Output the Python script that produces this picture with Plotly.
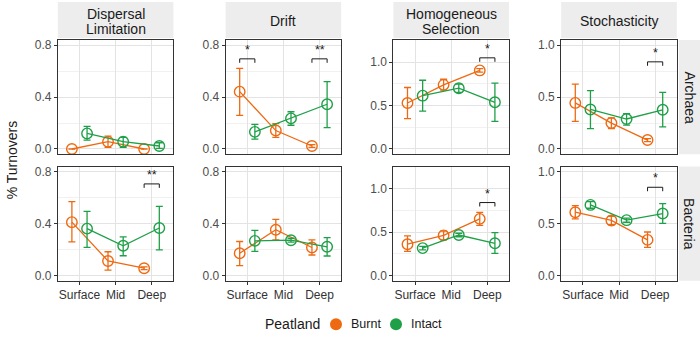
import plotly.graph_objects as go

# ---------------- data ----------------
categories = ["Surface", "Mid", "Deep"]
processes = ["Dispersal Limitation", "Drift", "Homogeneous Selection", "Stochasticity"]
process_label_lines = [["Dispersal", "Limitation"], ["Drift"], ["Homogeneous", "Selection"], ["Stochasticity"]]
domains = ["Archaea", "Bacteria"]
groups = ["Burnt", "Intact"]

# Archaea - Burnt
arc_dl_burnt_mean = [0.0, 0.056, 0.0]
arc_dl_burnt_lo = [0.0, 0.013, 0.0]
arc_dl_burnt_hi = [0.0, 0.099, 0.0]
arc_dr_burnt_mean = [0.442, 0.142, 0.023]
arc_dr_burnt_lo = [0.259, 0.089, 0.013]
arc_dr_burnt_hi = [0.622, 0.196, 0.033]
arc_hs_burnt_mean = [0.53, 0.739, 0.905]
arc_hs_burnt_lo = [0.349, 0.678, 0.885]
arc_hs_burnt_hi = [0.708, 0.803, 0.925]
arc_st_burnt_mean = [0.444, 0.25, 0.086]
arc_st_burnt_lo = [0.267, 0.197, 0.07]
arc_st_burnt_hi = [0.625, 0.30, 0.10]
# Archaea - Intact
arc_dl_intact_mean = [0.12, 0.056, 0.023]
arc_dl_intact_lo = [0.069, 0.013, 0.005]
arc_dl_intact_hi = [0.175, 0.089, 0.048]
arc_dr_intact_mean = [0.132, 0.236, 0.345]
arc_dr_intact_lo = [0.076, 0.183, 0.165]
arc_dr_intact_hi = [0.19, 0.287, 0.52]
arc_hs_intact_mean = [0.614, 0.70, 0.538]
arc_hs_intact_lo = [0.436, 0.652, 0.318]
arc_hs_intact_hi = [0.792, 0.746, 0.758]
arc_st_intact_mean = [0.381, 0.289, 0.378]
arc_st_intact_lo = [0.197, 0.229, 0.213]
arc_st_intact_hi = [0.562, 0.34, 0.546]
# Bacteria - Burnt
bac_dl_burnt_mean = [0.411, 0.112, 0.056]
bac_dl_burnt_lo = [0.259, 0.041, 0.045]
bac_dl_burnt_hi = [0.569, 0.183, 0.067]
bac_dr_burnt_mean = [0.171, 0.353, 0.216]
bac_dr_burnt_lo = [0.076, 0.274, 0.158]
bac_dr_burnt_hi = [0.262, 0.432, 0.274]
bac_hs_burnt_mean = [0.36, 0.462, 0.652]
bac_hs_burnt_lo = [0.277, 0.409, 0.576]
bac_hs_burnt_hi = [0.455, 0.511, 0.727]
bac_st_burnt_mean = [0.61, 0.53, 0.343]
bac_st_burnt_lo = [0.546, 0.489, 0.27]
bac_st_burnt_hi = [0.673, 0.571, 0.419]
# Bacteria - Intact
bac_dl_intact_mean = [0.361, 0.229, 0.366]
bac_dl_intact_lo = [0.216, 0.152, 0.198]
bac_dl_intact_hi = [0.495, 0.297, 0.533]
bac_dr_intact_mean = [0.267, 0.272, 0.221]
bac_dr_intact_lo = [0.186, 0.257, 0.15]
bac_dr_intact_hi = [0.348, 0.287, 0.292]
bac_hs_intact_mean = [0.315, 0.466, 0.371]
bac_hs_intact_lo = [0.295, 0.446, 0.254]
bac_hs_intact_hi = [0.335, 0.486, 0.493]
bac_st_intact_mean = [0.68, 0.533, 0.597]
bac_st_intact_lo = [0.648, 0.513, 0.502]
bac_st_intact_hi = [0.711, 0.553, 0.692]

# significance brackets: (domain, process, category, label, bracket height)
sig_domain = ["Archaea", "Archaea", "Archaea", "Archaea", "Bacteria", "Bacteria", "Bacteria"]
sig_process = ["Drift", "Drift", "Homogeneous Selection", "Stochasticity",
               "Dispersal Limitation", "Homogeneous Selection", "Stochasticity"]
sig_category = ["Surface", "Deep", "Deep", "Deep", "Deep", "Deep", "Deep"]
sig_label = ["*", "**", "*", "*", "**", "*", "*"]
sig_height = [0.695, 0.695, 1.05, 0.84, 0.706, 0.84, 0.85]

# y-axis ticks per process column
y_ticks = {
    "Dispersal Limitation": [0.0, 0.4, 0.8],
    "Drift": [0.0, 0.4, 0.8],
    "Homogeneous Selection": [0.0, 0.5, 1.0],
    "Stochasticity": [0.0, 0.5, 1.0],
}
y_limits = {
    "Dispersal Limitation": [-0.04, 0.84],
    "Drift": [-0.04, 0.84],
    "Homogeneous Selection": [-0.06, 1.255],
    "Stochasticity": [-0.05, 1.05],
}

data = {
    ("Archaea", "Dispersal Limitation", "Burnt"): (arc_dl_burnt_mean, arc_dl_burnt_lo, arc_dl_burnt_hi),
    ("Archaea", "Drift", "Burnt"): (arc_dr_burnt_mean, arc_dr_burnt_lo, arc_dr_burnt_hi),
    ("Archaea", "Homogeneous Selection", "Burnt"): (arc_hs_burnt_mean, arc_hs_burnt_lo, arc_hs_burnt_hi),
    ("Archaea", "Stochasticity", "Burnt"): (arc_st_burnt_mean, arc_st_burnt_lo, arc_st_burnt_hi),
    ("Archaea", "Dispersal Limitation", "Intact"): (arc_dl_intact_mean, arc_dl_intact_lo, arc_dl_intact_hi),
    ("Archaea", "Drift", "Intact"): (arc_dr_intact_mean, arc_dr_intact_lo, arc_dr_intact_hi),
    ("Archaea", "Homogeneous Selection", "Intact"): (arc_hs_intact_mean, arc_hs_intact_lo, arc_hs_intact_hi),
    ("Archaea", "Stochasticity", "Intact"): (arc_st_intact_mean, arc_st_intact_lo, arc_st_intact_hi),
    ("Bacteria", "Dispersal Limitation", "Burnt"): (bac_dl_burnt_mean, bac_dl_burnt_lo, bac_dl_burnt_hi),
    ("Bacteria", "Drift", "Burnt"): (bac_dr_burnt_mean, bac_dr_burnt_lo, bac_dr_burnt_hi),
    ("Bacteria", "Homogeneous Selection", "Burnt"): (bac_hs_burnt_mean, bac_hs_burnt_lo, bac_hs_burnt_hi),
    ("Bacteria", "Stochasticity", "Burnt"): (bac_st_burnt_mean, bac_st_burnt_lo, bac_st_burnt_hi),
    ("Bacteria", "Dispersal Limitation", "Intact"): (bac_dl_intact_mean, bac_dl_intact_lo, bac_dl_intact_hi),
    ("Bacteria", "Drift", "Intact"): (bac_dr_intact_mean, bac_dr_intact_lo, bac_dr_intact_hi),
    ("Bacteria", "Homogeneous Selection", "Intact"): (bac_hs_intact_mean, bac_hs_intact_lo, bac_hs_intact_hi),
    ("Bacteria", "Stochasticity", "Intact"): (bac_st_intact_mean, bac_st_intact_lo, bac_st_intact_hi),
}

# ---------------- styling / layout ----------------
W, H = 700, 338
colors = {"Burnt": "#EE6A12", "Intact": "#1FA048"}
dodge = {"Burnt": -0.21, "Intact": 0.21}
FONT = "Liberation Sans, Arial, sans-serif"
TXT = "#1a1a1a"

col_left = [57.8, 225.6, 393.4, 561.2]
panel_w = 115.6
row_top = [38.5, 166.5]
panel_h = 115.5
strip_right_x = (679, 700)


def px_x(p):
    return p / W


def px_y(p):
    return 1 - p / H


fig = go.Figure()
layout = dict(
    width=W, height=H, margin=dict(l=0, r=0, t=0, b=0, pad=0),
    paper_bgcolor="white", plot_bgcolor="white",
    font=dict(family=FONT, size=12, color=TXT),
    showlegend=False,
)
shapes = []
annotations = []

cat_x = {c: i + 1 for i, c in enumerate(categories)}

for r, dom in enumerate(domains):
    for c, proc in enumerate(processes):
        k = r * 4 + c + 1
        xa = "x" if k == 1 else f"x{k}"
        ya = "y" if k == 1 else f"y{k}"
        xd = [px_x(col_left[c]), px_x(col_left[c] + panel_w)]
        yd = [px_y(row_top[r] + panel_h), px_y(row_top[r])]
        yr = y_limits[proc]
        ticks = y_ticks[proc]
        layout["xaxis" if k == 1 else f"xaxis{k}"] = dict(
            domain=xd, anchor=ya, range=[0.4, 3.6],
            tickvals=[1, 2, 3], ticktext=categories,
            showticklabels=(r == 1), ticks="outside" if r == 1 else "",
            ticklen=3, tickcolor="#333", tickwidth=1,
            tickfont=dict(size=12, color="#333", family=FONT),
            showgrid=True, gridcolor="#E3E3E3", gridwidth=1,
            showline=True, mirror=True, linecolor="#333", linewidth=1,
            zeroline=False, fixedrange=True,
        )
        layout["yaxis" if k == 1 else f"yaxis{k}"] = dict(
            domain=yd, anchor=xa, range=yr,
            tickvals=ticks, ticktext=[f"{t:.1f}" for t in ticks],
            ticks="outside", ticklen=3, tickcolor="#333", tickwidth=1,
            tickfont=dict(size=12, color="#4D4D4D", family=FONT),
            showgrid=True, gridcolor="#E3E3E3", gridwidth=1,
            minor=dict(tickvals=[(ticks[0] + ticks[1]) / 2, (ticks[1] + ticks[2]) / 2],
                       showgrid=True, gridcolor="#F1F1F1", gridwidth=1),
            showline=True, mirror=True, linecolor="#333", linewidth=1,
            zeroline=False, fixedrange=True,
        )
        for g in groups:
            mean, lo, hi = data[(dom, proc, g)]
            xs = [cat_x[cc] + dodge[g] for cc in categories]
            fig.add_trace(go.Scatter(
                x=xs, y=mean, xaxis=xa, yaxis=ya, mode="lines+markers", name=g,
                line=dict(color=colors[g], width=1.3),
                marker=dict(symbol="circle-open", size=10.5, color=colors[g],
                            line=dict(width=1.4, color=colors[g])),
                error_y=dict(type="data", symmetric=False,
                             array=[h - m for h, m in zip(hi, mean)],
                             arrayminus=[m - l for m, l in zip(mean, lo)],
                             color=colors[g], thickness=1.3, width=3.5),
                showlegend=False, hoverinfo="skip",
            ))
        # significance brackets
        px_per_unit = panel_h / (yr[1] - yr[0])
        for sd, sp, sc, sl, sh in zip(sig_domain, sig_process, sig_category, sig_label, sig_height):
            if sd != dom or sp != proc:
                continue
            x0 = cat_x[sc] + dodge["Burnt"]
            x1 = cat_x[sc] + dodge["Intact"]
            leg = 4 / px_per_unit
            shapes.append(dict(type="path", xref=xa, yref=ya,
                               path=f"M {x0},{sh - leg} L {x0},{sh} L {x1},{sh} L {x1},{sh - leg}",
                               line=dict(color=TXT, width=1)))
            annotations.append(dict(x=(x0 + x1) / 2, y=sh + 12 / px_per_unit, xref=xa, yref=ya,
                                    text=sl, showarrow=False, yshift=-3,
                                    font=dict(size=12.5, color=TXT, family=FONT),
                                    xanchor="center", yanchor="middle"))

# strips on top
STRIP_FONT = 14
LINE_GAP = 15.7
for c, lines in enumerate(process_label_lines):
    shapes.append(dict(type="rect", xref="paper", yref="paper",
                       x0=px_x(col_left[c]), x1=px_x(col_left[c] + panel_w),
                       y0=px_y(36.5), y1=px_y(0), fillcolor="#EDEDED", line=dict(width=0),
                       layer="below"))
    n = len(lines)
    for i, ln in enumerate(lines):
        cy = 19.5 + (i - (n - 1) / 2) * LINE_GAP
        annotations.append(dict(x=px_x(col_left[c] + panel_w / 2), y=px_y(cy), xref="paper", yref="paper",
                                text=ln, showarrow=False, xanchor="center", yanchor="middle",
                                font=dict(size=STRIP_FONT, color=TXT, family=FONT)))
# strips on the right
for r, dom in enumerate(domains):
    shapes.append(dict(type="rect", xref="paper", yref="paper",
                       x0=px_x(strip_right_x[0]), x1=px_x(strip_right_x[1]),
                       y0=px_y(row_top[r] + panel_h), y1=px_y(row_top[r]),
                       fillcolor="#EDEDED", line=dict(width=0), layer="below"))
    annotations.append(dict(x=px_x((strip_right_x[0] + strip_right_x[1]) / 2),
                            y=px_y(row_top[r] + panel_h / 2), xref="paper", yref="paper",
                            text=dom, textangle=90, showarrow=False,
                            xanchor="center", yanchor="middle",
                            font=dict(size=STRIP_FONT, color=TXT, family=FONT)))

# y-axis title
annotations.append(dict(x=px_x(12), y=px_y((row_top[0] + row_top[1] + panel_h) / 2),
                        xref="paper", yref="paper", text="% Turnovers", textangle=-90,
                        showarrow=False, xanchor="center", yanchor="middle",
                        font=dict(size=14, color=TXT, family=FONT)))

# legend (drawn manually to match ggplot layout)
LEG_Y = 326
annotations.append(dict(x=px_x(263), y=px_y(LEG_Y), xref="paper", yref="paper", text="Peatland",
                        showarrow=False, xanchor="left", yanchor="middle",
                        font=dict(size=14, color=TXT, family=FONT)))
leg_circle_x = {"Burnt": 336, "Intact": 396}
for g in groups:
    cx = leg_circle_x[g]
    shapes.append(dict(type="circle", xref="paper", yref="paper",
                       xsizemode="pixel", ysizemode="pixel",
                       xanchor=px_x(cx), yanchor=px_y(LEG_Y),
                       x0=-6, x1=6, y0=-6, y1=6,
                       fillcolor=colors[g], line=dict(width=0)))
    annotations.append(dict(x=px_x(cx + 13), y=px_y(LEG_Y), xref="paper", yref="paper", text=g,
                            showarrow=False, xanchor="left", yanchor="middle",
                            font=dict(size=12.5, color=TXT, family=FONT)))

layout["shapes"] = shapes
layout["annotations"] = annotations
fig.update_layout(**layout)
fig.write_html("out.html", config={"displayModeBar": False},
               post_script="document.body.style.margin='0px';")
